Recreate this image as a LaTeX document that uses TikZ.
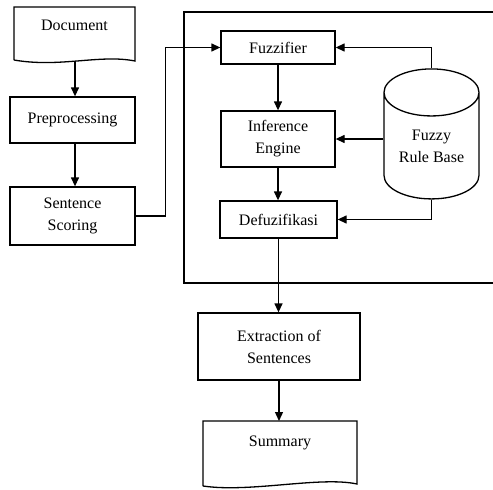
\documentclass[tikz,border=0pt]{standalone}
\usepackage{fontspec}
\setmainfont{Liberation Serif}
\usetikzlibrary{arrows.meta,shapes.geometric}

\tikzset{every picture/.style={line width=1.3pt}}
\tikzset{
    lbl/.style={inner sep=0pt, align=center, font=\fontsize{16}{22}\selectfont},
    box/.style={lbl, draw, rectangle},
    arr/.style={-{Triangle[length=9pt,width=8pt]}},
}

\begin{document}
\begin{tikzpicture}[
            x=1pt,
            y=1pt,
            yscale=-1,
            xscale=1,
            every node/.style={text=black},
            line width=1.3pt
        ]
            \useasboundingbox (0,0) rectangle (493,490);

            % outer frame, open on the right
            \draw (493,12) -- (184,12) -- (184,283) -- (493,283);

            % left column
            \node [lbl] (doc) at (74.5,25) {Document};
            \draw (14,60) -- (14,7) -- (135,7) -- (135,61) .. controls (100,54) and (60,68) .. (14,60);
            \coordinate (docb) at (75,62);
            \node [box, minimum width=125, minimum height=46] (prep) at (72.5,120) {Preprocessing};
            \node [box, minimum width=125, minimum height=58] (score) at (72.5,216) {Sentence\\Scoring};

            % fuzzy block
            \node [box, minimum width=114, minimum height=33] (fuzz) at (278,47.5) {Fuzzifier};
            \node [box, minimum width=114, minimum height=56] (infer) at (278,139) {Inference\\Engine};
            \node [box, minimum width=117, minimum height=37] (defuz) at (278.5,219.5) {Defuzifikasi};
            \node [lbl, draw, cylinder, shape border rotate=90, aspect=0.72,
                   minimum width=95, minimum height=130] (rules) at (431.5,146) {Fuzzy\\Rule Base};

            % output
            \node [box, minimum width=162, minimum height=67] (extr) at (279,346.5) {Extraction of\\Sentences};
            \node [lbl] (sum) at (280,443) {Summary};
            \draw (203,486) -- (203,421) -- (357,421) -- (357,484) .. controls (320,476) and (250,493) .. (203,486);

            \draw [arr] (docb) -- (prep.north -| docb);
            \draw [arr] (prep.south -| docb) -- (score.north -| docb);
            \draw [arr] (score.east) -- ++(30,0) |- (fuzz.west);
            \draw [arr] (fuzz) -- (infer);
            \draw [arr] (infer.south) -- (defuz.north -| infer.south);
            \draw [arr] (rules.north) |- (fuzz.east);
            \draw [arr] (rules.west |- infer.east) -- (infer.east);
            \draw [arr] (rules.south) |- (defuz.east);
            \draw [arr] (defuz.south) -- (extr.north -| defuz.south);
            \draw [arr] (extr.south) -- (extr.south |- 421,421);
        \end{tikzpicture}
\end{document}
